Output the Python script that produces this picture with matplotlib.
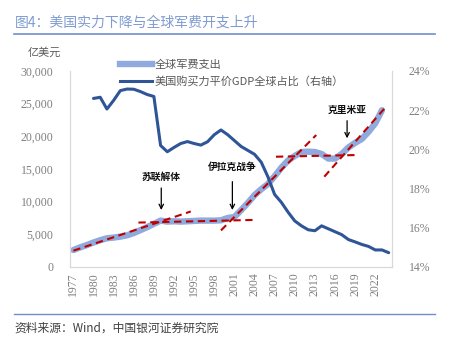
import matplotlib
matplotlib.use('Agg')
import matplotlib.pyplot as plt
from matplotlib.lines import Line2D

plt.rcParams['font.family'] = ['Noto Sans CJK SC', 'DejaVu Sans']

# 全球军费支出（亿美元），1977-2023
spend_years = list(range(1977, 2024))
spend = [2600, 3000, 3350, 3750, 4100, 4400, 4500, 4650, 4850, 5200,
         5650, 6100, 6600, 7100, 6950, 7000, 6950, 7000, 7050, 7100,
         7100, 7100, 7150, 7500, 7650, 8700, 9800, 11000, 11900, 12700,
         13900, 15200, 16300, 17000, 17600, 17650, 17600, 17300, 16600, 16600,
         17300, 18300, 19000, 19600, 20700, 22000, 24000]

# 美国购买力平价GDP全球占比（%），1980-2024
gdp_years = list(range(1980, 2025))
gdp_share = [22.6, 22.66, 22.06, 22.5, 23.0, 23.08, 23.07, 22.95, 22.8, 22.7,
             20.2, 19.88, 20.1, 20.3, 20.4, 20.3, 20.22, 20.39, 20.75, 20.99,
             20.75, 20.45, 20.15, 19.95, 19.75, 19.35, 18.6, 17.7, 17.3, 16.8,
             16.35, 16.1, 15.9, 15.85, 16.1, 15.95, 15.8, 15.65, 15.4, 15.28,
             15.15, 15.05, 14.87, 14.87, 14.73]

# 趋势线（起止年份, 起止数值）
trend_x = [(1977, 1994.5), (1986.7, 2003.7), (1999, 2013.2), (2007.2, 2019.4), (2014.4, 2023.7)]
trend_y = [(2500, 8500), (6800, 7200), (5600, 20200), (16880, 17140), (13820, 24640)]

# 事件标注：年份、箭头起止值、文字位置
event_names = ['苏联解体', '伊拉克战争', '克里米亚']
event_x = [1990.1, 2000.7, 2017.8]
event_tail = [12090, 13060, 22390]
event_tip = [8720, 8720, 19700]
event_text_y = [13770, 15300, 24030]

xtick_years = list(range(1977, 2023, 3))

light_blue = '#8faadc'
dark_blue = '#2f5597'
red = '#c00000'
grey = '#7f7f7f'
serif = ['Liberation Serif', 'DejaVu Serif']

fig = plt.figure(figsize=(4.5, 3.42), dpi=100)
ax = fig.add_axes([0.1556, 0.2193, 0.7156, 0.5731])
ax2 = ax.twinx()

ax.plot(spend_years, spend, color=light_blue, lw=4.6, solid_capstyle='round', zorder=2)
for xs, ys in zip(trend_x, trend_y):
    ax.plot(xs, ys, color=red, lw=1.5, ls=(0, (3.5, 2.2)), zorder=3)

ax2.plot(gdp_years, gdp_share, color=dark_blue, lw=2.2, solid_capstyle='round')

for name, x, tail, tip, ty in zip(event_names, event_x, event_tail, event_tip, event_text_y):
    ax.annotate('', xy=(x, tip), xytext=(x, tail),
                arrowprops=dict(arrowstyle='->', color='black', lw=0.9,
                                shrinkA=0, shrinkB=0, mutation_scale=8))
    ax.text(x, ty, name, ha='center', va='center', fontsize=7, color='#111111',
            fontweight='bold')

ax.set_xlim(1976.5, 2024.5)
ax.set_ylim(0, 30000)
ax2.set_ylim(14, 24)
ax.set_yticks(range(0, 30001, 5000))
ax.set_yticklabels([f'{v:,}' for v in range(0, 30001, 5000)])
ax2.set_yticks(range(14, 25, 2))
ax2.set_yticklabels([f'{v}%' for v in range(14, 25, 2)])
ax.set_xticks(xtick_years)
ax.set_xticklabels([str(y) for y in xtick_years], rotation=90)

for a in (ax, ax2):
    a.tick_params(length=0, labelsize=8.5, labelcolor=grey, pad=4)
    for lab in a.get_xticklabels() + a.get_yticklabels():
        lab.set_fontfamily(serif)
    for side, sp in a.spines.items():
        sp.set_color('#d9d9d9')
        sp.set_linewidth(0.8)
    a.spines['top'].set_visible(False)
ax.tick_params(axis='y', pad=12)
ax2.tick_params(axis='y', pad=12)

# 图例
handles = [Line2D([], [], color=light_blue, lw=4.6),
           Line2D([], [], color=dark_blue, lw=2.2)]
labels = ['全球军费支出', '美国购买力平价GDP全球占比（右轴）']
fig.legend(handles, labels, loc='upper left', bbox_to_anchor=(0.245, 0.855),
           frameon=False, fontsize=8, handlelength=2.9, handletextpad=0.2,
           labelspacing=0.55, labelcolor='#595959')

fig.text(0.062, 0.845, '亿美元', fontsize=8, color='#595959', va='center')

# 标题与来源
fig.text(0.033, 0.935, '图4：美国实力下降与全球军费开支上升', fontsize=10,
         color='#7f9bd1', va='center')
fig.add_artist(Line2D([0.031, 0.967], [0.9, 0.9], color='#6f8fcf', lw=1.2))
fig.add_artist(Line2D([0.031, 0.967], [0.083, 0.083], color='#6f8fcf', lw=1.0))
fig.text(0.033, 0.041, '资料来源：Wind，中国银河证券研究院', fontsize=8.5,
         color='#404040', va='center', style='italic')

fig.savefig('out.png', dpi=100)
